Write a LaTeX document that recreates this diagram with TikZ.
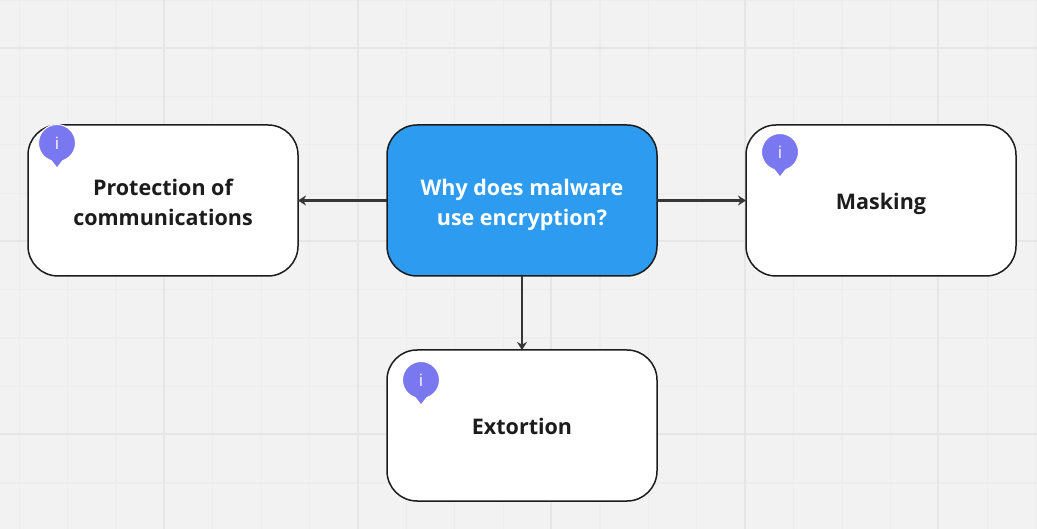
\documentclass[tikz,border=0pt]{standalone}
\usepackage{fontspec}
\setmainfont{Open Sans}
\usetikzlibrary{positioning,calc,arrows.meta}
\definecolor{boardbg}{HTML}{F2F2F2}
\definecolor{gridminor}{HTML}{EDEDED}
\definecolor{gridmajor}{HTML}{E6E6E6}
\definecolor{boxblue}{HTML}{2D9BF0}
\definecolor{badgeblue}{HTML}{7A78F0}
\definecolor{inkdark}{HTML}{1C1C1C}
\definecolor{arrowdark}{HTML}{363636}
\begin{document}
\begin{tikzpicture}[
        x=1pt, y=-1pt,
        node distance=74pt and 89pt,
        box/.style={rectangle, draw=inkdark, fill=white, line width=1.5pt, outer sep=0pt, rounded corners=30pt, minimum width=270pt, minimum height=151pt, text height=21pt, text depth=3pt, align=center, font=\fontsize{21.5}{30}\selectfont\bfseries, text=inkdark},
        box-two/.style={box, text height=54pt},
        box-main/.style={box-two, fill=boxblue, text=white},
        badge/.style={circle, fill=badgeblue, draw=white, line width=1pt, minimum size=37pt, inner sep=0pt, text=white, font=\fontsize{17}{17}\selectfont},
        arrow/.style={-{Stealth[length=8pt,width=10pt]}, draw=arrowdark, line width=2.3pt},
        gridline/.style={draw=gridminor, line width=1.2pt},
        gridline-major/.style={draw=gridmajor, line width=2pt}
    ]
    \useasboundingbox (0,0) rectangle (1037,529);
    \fill[boardbg] (0,0) rectangle (1037,529);

    % Grid
    \foreach \i in {0,...,21} {
        \draw[gridline] ({19.2+48.4*\i},0) -- ({19.2+48.4*\i},529);
    }
    \foreach \i in {0,...,10} {
        \draw[gridline] (0,{0+48.3*\i}) -- (1037,{0+48.3*\i});
    }
    \foreach \i in {0,...,4} {
        \draw[gridline-major] ({164.4+193.5*\i},0) -- ({164.4+193.5*\i},529);
    }
    \foreach \i in {0,1,2} {
        \draw[gridline-major] (0,{48+193*\i}) -- (1037,{48+193*\i});
    }

    % Boxes
    \node[box-main] (why) at (522,200.5) {Why does malware\\use encryption?};
    \node[box-two] (prot) [left=of why] {Protection of\\communications};
    \node[box] (mask) [right=of why] {Masking};
    \node[box] (ext) [below=of why] {Extortion};

    % Connections
    \draw[arrow] (why) -- (prot);
    \draw[arrow] (why) -- (mask);
    \draw[arrow] (why) -- (ext);

    % Badges
    \foreach \name/\parent/\dx/\dy in {ia/prot/29/18, ib/mask/34/27, ic/ext/34/30} {
        \node[badge] (\name) at ($(\parent.north west)+(\dx,\dy)$) {i};
        \fill[badgeblue] ($(\name.center)+(-7,15)$) -- ($(\name.center)+(0,24)$) -- ($(\name.center)+(7,15)$) -- cycle;
    }
\end{tikzpicture}
\end{document}
